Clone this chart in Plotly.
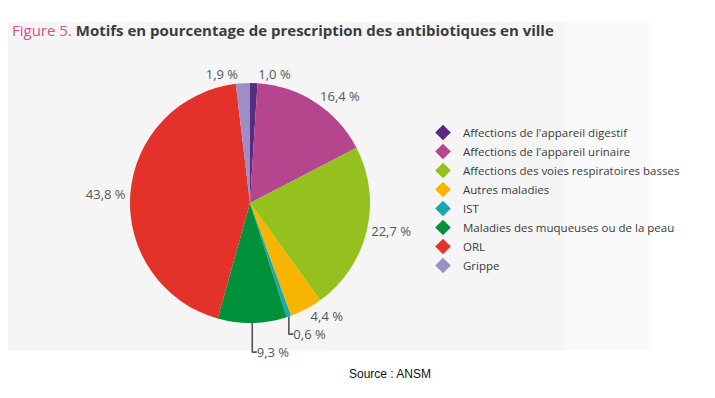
import plotly.graph_objects as go

categories = [
    "Affections de l'appareil digestif",
    "Affections de l'appareil urinaire",
    "Affections des voies respiratoires basses",
    "Autres maladies",
    "IST",
    "Maladies des muqueuses ou de la peau",
    "ORL",
    "Grippe",
]
values = [1.0, 16.4, 22.7, 4.4, 0.6, 9.3, 43.8, 1.9]
colors = ["#5a2a82", "#b5468e", "#95c11f", "#f7b400", "#1aa7b3", "#00913a", "#e4322b", "#9d8fc6"]
labels_txt = [f"{v:.1f} %".replace(".", ",") for v in values]

W, H = 715, 398
fig = go.Figure()

fig.add_trace(go.Pie(
    labels=categories,
    values=values,
    text=labels_txt,
    textinfo="text",
    textposition="outside",
    textfont=dict(family="Open Sans, Lato, sans-serif", size=13, color="#555555"),
    marker=dict(colors=colors, line=dict(width=0)),
    sort=False,
    direction="clockwise",
    rotation=0,
    showlegend=False,
    hole=0,
    domain=dict(x=[122 / W, 362 / W], y=[(H - 315) / H, (H - 75) / H]),
    automargin=False,
))

for name, c in zip(categories, colors):
    fig.add_trace(go.Scatter(
        x=[None], y=[None], mode="markers", name=name,
        marker=dict(symbol="diamond", size=10, color=c),
        showlegend=True,
    ))

fig.update_layout(
    width=W, height=H,
    margin=dict(l=0, r=0, t=0, b=0),
    paper_bgcolor="white",
    plot_bgcolor="rgba(0,0,0,0)",
    xaxis=dict(visible=False),
    yaxis=dict(visible=False),
    font=dict(family="Open Sans, Lato, sans-serif", color="#333333"),
    legend=dict(
        x=415 / W, y=1 - 110 / H, xanchor="left", yanchor="top",
        font=dict(size=11.5, color="#3a3a3a", family="Open Sans, Lato, sans-serif"),
        bgcolor="rgba(0,0,0,0)",
        itemsizing="constant",
        itemwidth=30,
        tracegroupgap=0,
    ),
    shapes=[
        dict(type="rect", xref="paper", yref="paper", x0=0, x1=0.78,
             y0=1 - 342 / H, y1=1 - 14 / H, fillcolor="#f5f5f5", line=dict(width=0), layer="below"),
        dict(type="rect", xref="paper", yref="paper", x0=0.78, x1=0.9,
             y0=1 - 342 / H, y1=1 - 14 / H, fillcolor="#fafafa", line=dict(width=0), layer="below"),
    ],
    annotations=[
        dict(xref="paper", yref="paper", x=0, y=1 - 22 / H, xanchor="left", yanchor="middle",
             xshift=2, showarrow=False,
             text="<span style='color:#d94f8e'>Figure 5.</span> <b>Motifs en pourcentage de prescription des antibiotiques en ville</b>",
             font=dict(size=15, color="#3c3c3c", family="Open Sans, Lato, sans-serif")),
        dict(xref="paper", yref="paper", x=382 / W, y=1 - 366 / H, xanchor="center", yanchor="middle",
             showarrow=False, text="Source : ANSM",
             font=dict(size=12, color="#111111", family="Liberation Sans, sans-serif")),
    ],
)

fig.write_html("out.html")
